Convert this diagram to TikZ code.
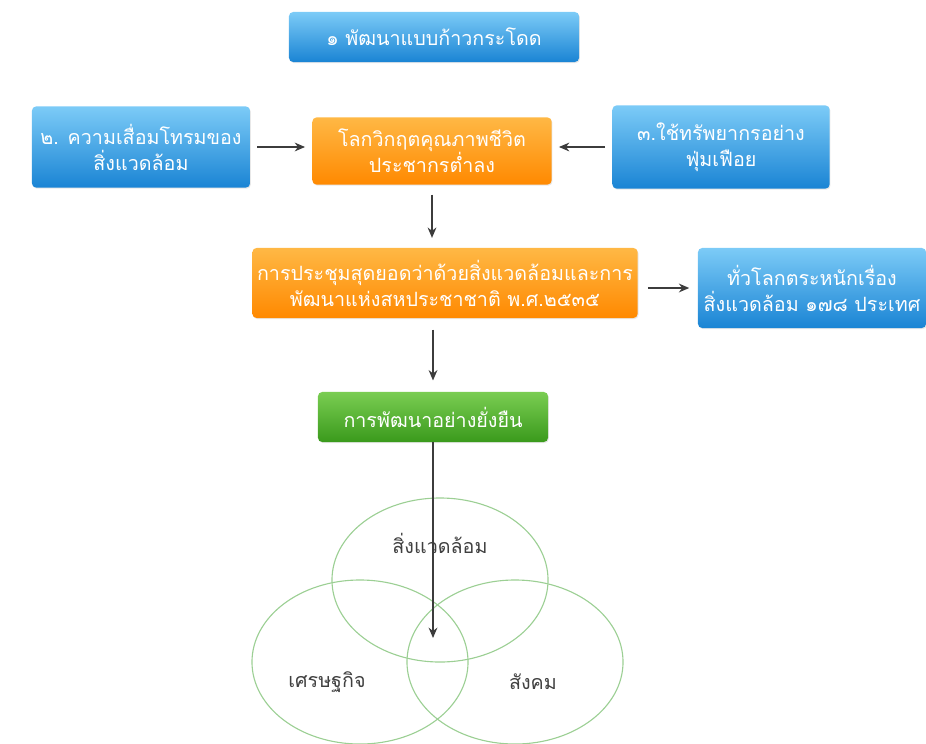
\documentclass[tikz,border=0pt]{standalone}
\usepackage{fontspec}
\newfontfamily\thaifont[Script=Thai]{Loma}
\usetikzlibrary{arrows.meta,positioning,shapes.geometric,shadows}

\definecolor{bluetop}{HTML}{7CCBF7}
\definecolor{bluebot}{HTML}{1A84D4}
\definecolor{orangetop}{HTML}{FFB845}
\definecolor{orangebot}{HTML}{FF8900}
\definecolor{greentop}{HTML}{7ACD52}
\definecolor{greenbot}{HTML}{3A9A1C}
\definecolor{vennline}{HTML}{9CCF94}
\definecolor{arrowgray}{HTML}{3C3C3C}

\begin{document}
\begin{tikzpicture}[
      x=0.025cm, y=-0.025cm,
      box/.style={rounded corners=3pt, align=center, text=white, inner sep=0pt,
                  font=\thaifont\fontsize{14}{18.5}\selectfont,
                  drop shadow={opacity=0.18, shadow xshift=0.6pt, shadow yshift=-0.8pt}},
      bluebox/.style={box, top color=bluetop, bottom color=bluebot},
      orangebox/.style={box, top color=orangetop, bottom color=orangebot},
      greenbox/.style={box, top color=greentop, bottom color=greenbot},
      venn/.style={draw=vennline, line width=0.8pt, ellipse, minimum width=5.4cm, minimum height=4.1cm},
      vennlabel/.style={text=black!75, font=\thaifont\fontsize{14}{18}\selectfont},
      link/.style={->, draw=arrowgray, line width=1pt},
      >={Stealth[length=2.6mm, width=2.2mm]}
    ]
    \useasboundingbox (0,0) rectangle (926,743);

    \node[bluebox, minimum width=7.25cm, minimum height=1.25cm] (leap) at (434,37) {๑ พัฒนาแบบก้าวกระโดด};

    \node[bluebox, minimum width=5.45cm, minimum height=2.03cm] (decay) at (141,147) {๒. ความเสื่อมโทรมของ\\สิ่งแวดล้อม};
    \node[orangebox, minimum width=5.98cm, minimum height=1.68cm] (crisis) at (432,151) {โลกวิกฤตคุณภาพชีวิต\\ประชากรต่ำลง};
    \node[bluebox, minimum width=5.43cm, minimum height=2.08cm] (waste) at (721,147) {๓.ใช้ทรัพยากรอย่าง\\ฟุ่มเฟือย};

    \node[orangebox, minimum width=9.63cm, minimum height=1.75cm] (summit) at (445,283) {การประชุมสุดยอดว่าด้วยสิ่งแวดล้อมและการ\\พัฒนาแห่งสหประชาชาติ พ.ศ.๒๕๓๕};
    \node[bluebox, minimum width=5.7cm, minimum height=2cm] (aware) at (812,288) {ทั่วโลกตระหนักเรื่อง\\สิ่งแวดล้อม ๑๗๘ ประเทศ};

    \node[greenbox, minimum width=5.75cm, minimum height=1.25cm] (sustain) at (433,417) {การพัฒนาอย่างยั่งยืน};

    % venn
    \node[venn] (env) at (440,580) {};
    \node[venn] (eco) at (360,662) {};
    \node[venn] (soc) at (515,662) {};
    \node[vennlabel] (envtxt) at (440,543) {สิ่งแวดล้อม};
    \node[vennlabel] (ecotxt) at (327,682) {เศรษฐกิจ};
    \node[vennlabel] (soctxt) at (533,682) {สังคม};
    \coordinate (core) at (433,638);

    \draw[link, shorten <=5pt, shorten >=5pt] (decay.east) -- (decay.east -| crisis.west);
    \draw[link, shorten <=5pt, shorten >=5pt] (waste.west) -- (waste.west -| crisis.east);
    \draw[link, shorten <=7pt, shorten >=7pt] (crisis.south) -- (crisis.south |- summit.north);
    \draw[link, shorten <=7pt, shorten >=6pt] (summit.east |- aware.west) -- (aware.west);
    \draw[link, shorten <=8pt, shorten >=8pt] (summit.south -| sustain.south) -- (sustain.north);
    \draw[link] (sustain.south) -- (core);
  \end{tikzpicture}
\end{document}
